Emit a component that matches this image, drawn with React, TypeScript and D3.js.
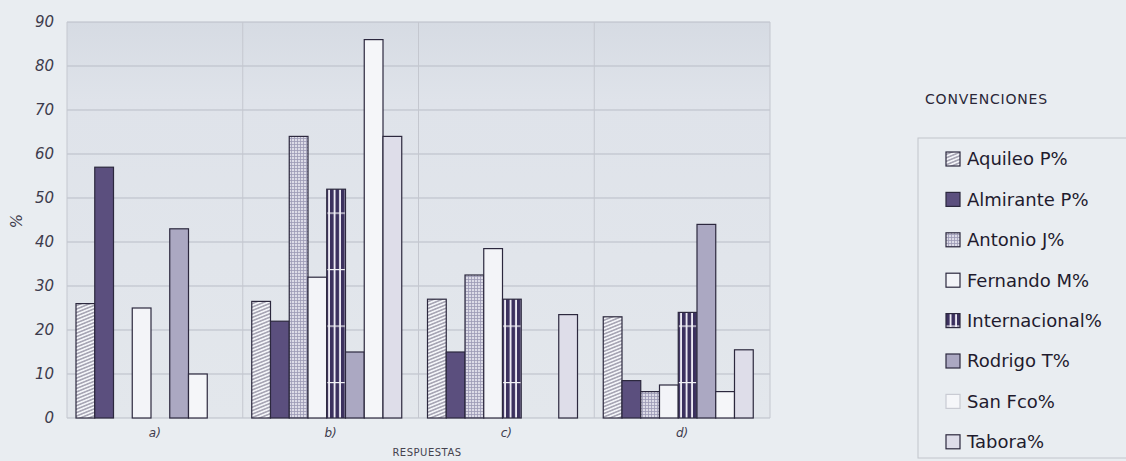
import React from 'react';
import * as d3 from 'd3';

const categories = ['a)', 'b)', 'c)', 'd)'];
const seriesNames = ['Aquileo P%', 'Almirante P%', 'Antonio J%', 'Fernando M%', 'Internacional%', 'Rodrigo T%', 'San Fco%', 'Tabora%'];
const aquileo = [26, 26.5, 27, 23];
const almirante = [57, 22, 15, 8.5];
const antonio = [0, 64, 32.5, 6];
const fernando = [25, 32, 38.5, 7.5];
const internacional = [0, 52, 27, 24];
const rodrigo = [43, 15, 0, 44];
const sanFco = [10, 86, 0, 6];
const tabora = [0, 64, 23.5, 15.5];
const yTicks = [0, 10, 20, 30, 40, 50, 60, 70, 80, 90];

const seriesValues = [aquileo, almirante, antonio, fernando, internacional, rodrigo, sanFco, tabora];
const fills = ['url(#hatch)', '#5b4f7e', 'url(#grid)', '#f3f4f8', 'url(#intl)', '#aba8c2', '#f5f6f9', '#dedde9'];

const W = 1126, H = 461;
const left = 67, right = 770, top = 22, bottom = 418;

export default function App() {
  const x0 = d3.scaleBand<string>().domain(categories).range([left, right]);
  const x1 = d3.scaleBand<string>().domain(seriesNames).range([9, 159]);
  const y = d3.scaleLinear().domain([0, 90]).range([bottom, top]);

  const bars = categories.flatMap((c, ci) =>
    seriesNames.map((s, si) => ({ c, s, si, v: seriesValues[si][ci] }))
  ).filter(d => d.v > 0);

  return (
    <svg width={W} height={H} style={{ position: 'absolute', left: 0, top: 0 }}>
      <defs>
        <linearGradient id="bg" x1="0" y1="0" x2="0" y2="1">
          <stop offset="0" stopColor="#d6dbe3" />
          <stop offset="0.2" stopColor="#dfe3ea" />
          <stop offset="1" stopColor="#e3e7ec" />
        </linearGradient>
        <pattern id="hatch" patternUnits="userSpaceOnUse" width="4" height="3.2" patternTransform="rotate(-22)">
          <rect width="4" height="3.2" fill="#f4f5f9" />
          <line x1="0" x2="4" y1="1.6" y2="1.6" stroke="#4a4560" strokeWidth="0.8" />
        </pattern>
        <pattern id="grid" patternUnits="userSpaceOnUse" width="3" height="3">
          <rect width="3" height="3" fill="#dcdbe7" />
          <line x1="0" x2="3" y1="0.5" y2="0.5" stroke="#9c99b5" strokeWidth="0.8" />
          <line x1="0.5" x2="0.5" y1="0" y2="3" stroke="#9c99b5" strokeWidth="0.8" />
        </pattern>
        <pattern id="intl" patternUnits="userSpaceOnUse" width="5.5" height="56.5" y="382">
          <rect width="5.5" height="56.5" fill="#eceaf3" />
          <rect x="0" width="3.6" height="56.5" fill="#3b305e" />
          <rect x="0" y="0" width="5.5" height="1.2" fill="#f2f2f7" />
        </pattern>
      </defs>

      <rect width={W} height={H} fill="#e9edf1" />
      <rect x={left} y={top} width={right - left} height={bottom - top} fill="url(#bg)" />

      {yTicks.map(t => (
        <g key={t}>
          <line x1={left} x2={right} y1={y(t)} y2={y(t)} stroke="#b9bdc7" strokeWidth={1} />
          <text x={54} y={y(t)} dy="0.35em" textAnchor="end" fontFamily="DejaVu Sans" fontStyle="italic"
            fontSize={15} fill="#3d3b4c">{t}</text>
        </g>
      ))}
      {categories.map(c => (
        <line key={c} x1={x0(c)} x2={x0(c)} y1={top} y2={bottom} stroke="#c4c7cf" strokeWidth={1} />
      ))}
      <line x1={right} x2={right} y1={top} y2={bottom} stroke="#c4c7cf" strokeWidth={1} />

      {bars.map(d => (
        <rect key={d.c + d.s}
          x={(x0(d.c) ?? 0) + (x1(d.s) ?? 0)}
          y={y(d.v)}
          width={x1.bandwidth()}
          height={bottom - y(d.v)}
          fill={fills[d.si]}
          stroke="#2c283e" strokeWidth={1.2} />
      ))}

      {categories.map(c => (
        <text key={c} x={(x0(c) ?? 0) + x0.bandwidth() / 2} y={433} dy="0.35em" textAnchor="middle"
          fontFamily="DejaVu Sans" fontStyle="italic" fontSize={12} fill="#3d3b4c">{c}</text>
      ))}
      <text x={427} y={452} dy="0.35em" textAnchor="middle" fontFamily="DejaVu Sans" fontSize={10}
        fill="#45434f" letterSpacing="0.5">RESPUESTAS</text>
      <text transform={`translate(17,221) rotate(-90)`} textAnchor="middle" dy="0.35em"
        fontFamily="DejaVu Sans" fontStyle="italic" fontSize={15} fill="#3d3b4c">%</text>

      <text x={925} y={99} dy="0.35em" fontFamily="DejaVu Sans" fontSize={14} letterSpacing="0.8"
        fill="#2a2738">CONVENCIONES</text>
      <rect x={918} y={138} width={220} height={320} fill="none" stroke="#c2c5cc" strokeWidth={1} />
      {seriesNames.map((s, i) => {
        const cy = 159 + i * 40.4;
        return (
          <g key={s}>
            <rect x={946} y={cy - 7} width={14} height={14} fill={fills[i]}
              stroke={i === 6 ? '#c9cbd3' : '#2c283e'} strokeWidth={1.2} />
            <text x={967} y={cy} dy="0.35em" fontFamily="DejaVu Sans" fontSize={18} fill="#1f1b2e">{s}</text>
          </g>
        );
      })}
    </svg>
  );
}
